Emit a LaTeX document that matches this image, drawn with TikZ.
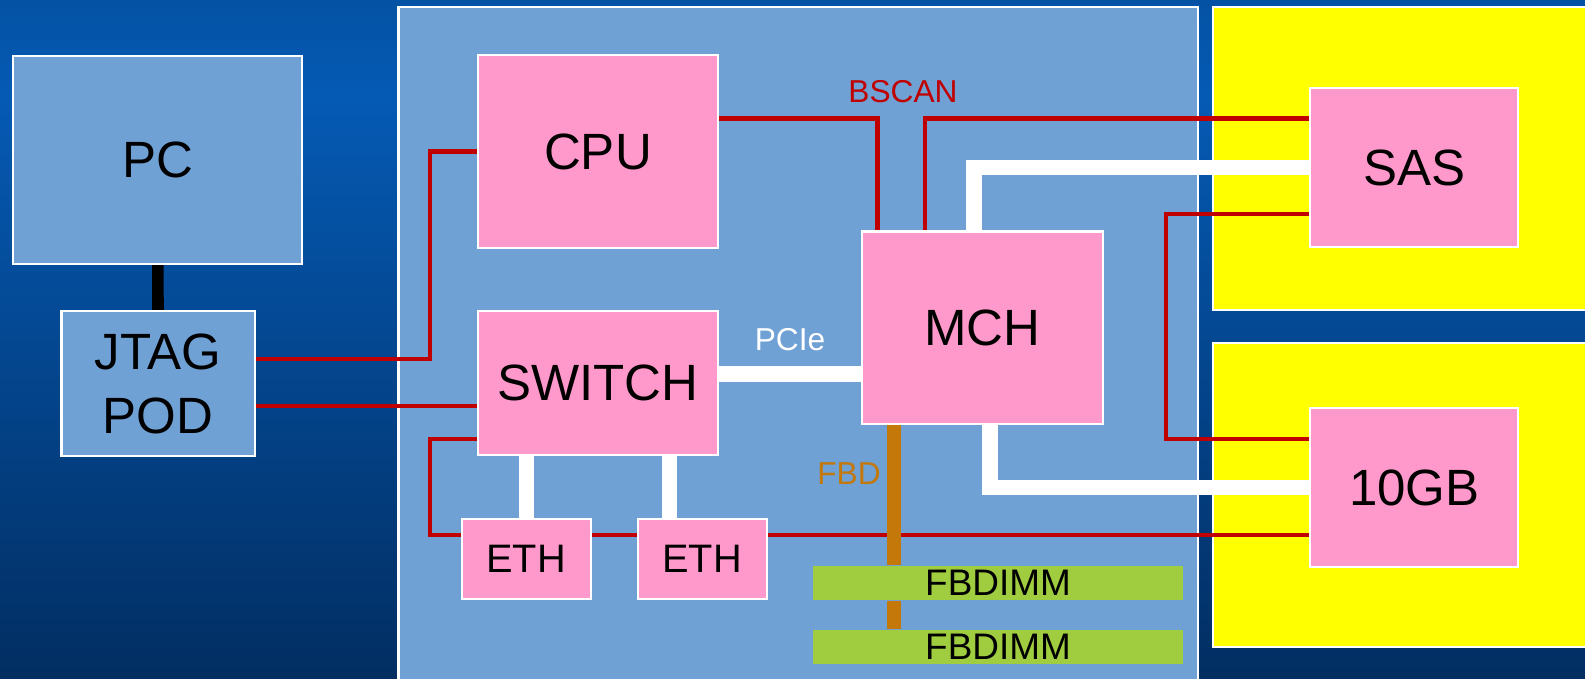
\documentclass[tikz,border=0pt]{standalone}
\usepackage{fontspec}
\setmainfont{Liberation Sans}
\usetikzlibrary{calc}
\definecolor{slidetop}{RGB}{5,90,180}
\definecolor{slideedge}{RGB}{4,82,164}
\definecolor{slidebot}{RGB}{2,46,98}
\definecolor{panel}{RGB}{112,161,212}
\definecolor{chip}{RGB}{255,153,204}
\definecolor{dimm}{RGB}{160,204,64}
\definecolor{card}{RGB}{255,255,0}
\definecolor{bscan}{RGB}{192,0,0}
\definecolor{fbdbus}{RGB}{196,120,10}
\pgfdeclareverticalshading{slide}{100bp}{color(0bp)=(slidebot); color(25bp)=(slidebot); color(68bp)=(slidetop); color(75bp)=(slideedge); color(100bp)=(slideedge)}

\begin{document}
\begin{tikzpicture}[x=0.01cm, y=0.01cm,
  box/.style={draw=white, line width=0.6pt, inner sep=0pt, font=\fontsize{14.5}{18.2}\selectfont},
  chip/.style={box, fill=chip},
  host/.style={box, fill=panel},
  dimm/.style={fill=dimm, inner sep=0pt, minimum width=3.7cm, minimum height=0.34cm, font=\fontsize{10.5}{12}\selectfont},
  jtagline/.style={draw=bscan, line width=1.4pt},
  bus/.style={draw=white, line width=4.3pt},
  fbd/.style={draw=fbdbus, line width=4.1pt},
  tag/.style={inner sep=0pt, font=\fontsize{9}{11}\selectfont}]
  % Slide
  \useasboundingbox (0,0) rectangle (1585,678);
  \clip (0,0) rectangle (1585,678);
  \shade[shading=slide] (0,0) rectangle (1585,678);
  % Board and the two cards
  \draw[white, line width=0.6pt, fill=panel] (398.5,-20) rectangle (1198,670.7);
  \draw[white, line width=0.6pt, fill=card] (1213.3,367.6) rectangle (1600,670.7);
  \draw[white, line width=0.6pt, fill=card] (1213.3,30.8) rectangle (1600,335.2);
  % Host side
  \node[host, minimum width=2.89cm, minimum height=2.08cm] (pc) at (157.8,518) {PC};
  \node[host, align=center, minimum width=1.93cm, minimum height=1.45cm] (jtag) at (158,294.5) {JTAG\\POD};
  % Chips on the board
  \node[chip, minimum width=2.40cm, minimum height=1.92cm] (cpu) at (598,526.5) {CPU};
  \node[chip, minimum width=2.40cm, minimum height=1.444cm] (switch) at (598,295) {SWITCH};
  \node[chip, minimum width=2.41cm, minimum height=1.92cm] (mch) at (982.2,350.5) {MCH};
  \node[chip, minimum width=1.29cm, minimum height=0.80cm, font=\fontsize{11.3}{13}\selectfont] (ethA) at (526.1,119) {ETH};
  \node[chip, minimum width=1.29cm, minimum height=0.80cm, font=\fontsize{11.3}{13}\selectfont] (ethB) at (702.2,119) {ETH};
  \node[dimm] (dimmA) at (998,95) {FBDIMM};
  \node[dimm] (dimmB) at (998,31) {FBDIMM};
  % Cards
  \node[chip, minimum width=2.08cm, minimum height=1.59cm] (sas) at (1414.2,510.5) {SAS};
  \node[chip, minimum width=2.08cm, minimum height=1.59cm] (tengb) at (1414.2,190.5) {10GB};
  % Labels
  \node[tag, text=bscan] (bscanlbl) at (903,586) {BSCAN};
  \node[tag, text=white] (pcielbl) at (790,338) {PCIe};
  \node[tag, text=fbdbus] (fbdlbl) at (849,204) {FBD};
  % PC to pod
  \draw[line width=3.3pt] (pc.south) -- (jtag.north);
  % JTAG chain
  \draw[jtagline] (jtag.east |- 0,319) -- (430,319) |- (cpu.west);
  \draw[jtagline] (jtag.east |- 0,272) -- (switch.west |- 0,272);
  \draw[jtagline] (switch.west |- 0,239) -- (430,239) |- (ethA.west |- 0,143);
  \draw[jtagline] (ethA.east |- 0,143) -- (ethB.west |- 0,143);
  \draw[jtagline] (ethB.east |- 0,143) -- (tengb.west |- 0,143);
  \draw[jtagline] (cpu.east |- 0,559.5) -| (mch.north -| 877.6,0);
  \draw[jtagline] (mch.north -| 925,0) |- (sas.west |- 0,559.5);
  \draw[jtagline] (sas.west |- 0,464) -- (1166,464) |- (tengb.west |- 0,239);
  % PCIe links
  \draw[bus] (switch.east |- 0,304) -- (mch.west |- 0,304);
  \draw[bus] (mch.north -| 974,0) |- (sas.west);
  \draw[bus] (mch.south -| 990,0) |- (tengb.west);
  \draw[bus] (switch.south -| ethA.north) -- (ethA.north);
  \draw[bus] (switch.south -| 669.6,0) -- (ethB.north -| 669.6,0);
  % FBD channel
  \draw[fbd] (mch.south -| 894,0) -- (dimmA.north -| 894,0);
  \draw[fbd] (dimmA.south -| 894,0) -- (dimmB.north -| 894,0);
\end{tikzpicture}
\end{document}
